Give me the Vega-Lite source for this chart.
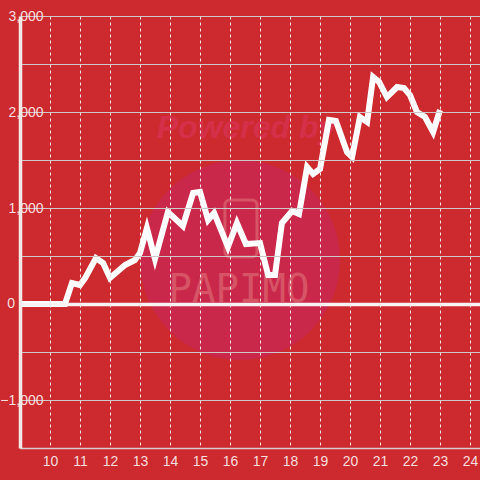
{
  "$schema": "https://vega.github.io/schema/vega-lite/v6.json",
  "width": 460,
  "height": 432,
  "autosize": {"type": "none"},
  "padding": {"left": 20, "top": 16, "right": 0, "bottom": 32},
  "background": "#cc2a2f",
  "config": {"view": {"stroke": null}, "font": "Liberation Sans"},
  "datasets": {
    "circle": [{"x": 16.33, "y": 458}],
    "phone": [{"x": 15.83, "x2": 16.9, "y": 1083, "y2": 490}],
    "powered": [{"x": 16.55, "y": 1830, "label": "Powered by"}],
    "papimo": [{"x": 16.3, "y": 146, "label": "PAPIMO"}],
    "zerolabel": [{"x": 9, "y": 0, "label": "0"}],
    "profit": [
      {"x": 9.0, "y": 0}, {"x": 10.5, "y": 0}, {"x": 10.73, "y": 219}, {"x": 11.0, "y": 198},
      {"x": 11.17, "y": 270}, {"x": 11.53, "y": 479}, {"x": 11.77, "y": 427}, {"x": 12.0, "y": 271},
      {"x": 12.5, "y": 406}, {"x": 12.83, "y": 458}, {"x": 13.0, "y": 531}, {"x": 13.23, "y": 792},
      {"x": 13.5, "y": 469}, {"x": 13.93, "y": 958}, {"x": 14.43, "y": 813}, {"x": 14.77, "y": 1156},
      {"x": 15.0, "y": 1167}, {"x": 15.27, "y": 875}, {"x": 15.47, "y": 948}, {"x": 15.93, "y": 594},
      {"x": 16.23, "y": 844}, {"x": 16.53, "y": 625}, {"x": 17.0, "y": 635}, {"x": 17.27, "y": 302},
      {"x": 17.5, "y": 302}, {"x": 17.73, "y": 844}, {"x": 18.07, "y": 969}, {"x": 18.3, "y": 938},
      {"x": 18.57, "y": 1427}, {"x": 18.77, "y": 1354}, {"x": 19.0, "y": 1406}, {"x": 19.3, "y": 1917},
      {"x": 19.53, "y": 1906}, {"x": 19.9, "y": 1583}, {"x": 20.07, "y": 1531}, {"x": 20.33, "y": 1948},
      {"x": 20.57, "y": 1896}, {"x": 20.77, "y": 2365}, {"x": 20.97, "y": 2313}, {"x": 21.23, "y": 2156},
      {"x": 21.57, "y": 2260}, {"x": 21.8, "y": 2250}, {"x": 22.0, "y": 2177}, {"x": 22.23, "y": 2000},
      {"x": 22.5, "y": 1948}, {"x": 22.77, "y": 1792}, {"x": 23.0, "y": 2021}
    ]
  },
  "encoding": {
    "x": {
      "field": "x", "type": "quantitative",
      "scale": {"domain": [9, 24.333], "nice": false, "zero": false},
      "axis": {
        "title": null, "values": [10, 11, 12, 13, 14, 15, 16, 17, 18, 19, 20, 21, 22, 23, 24],
        "zindex": 1, "grid": true, "gridColor": "#f2e6e6", "gridDash": [3, 3], "gridWidth": 1,
        "ticks": false, "labelPadding": 6, "labelColor": "#f6dede", "labelFontSize": 14,
        "domainColor": "#d8cccc", "domainWidth": 1.5, "labelFlush": false
      }
    },
    "y": {
      "field": "y", "type": "quantitative",
      "scale": {"domain": [-1500, 3000], "nice": false, "zero": false},
      "axis": {
        "title": null, "values": [-1500, -1000, -500, 0, 500, 1000, 1500, 2000, 2500, 3000],
        "labelExpr": "datum.value != 0 && datum.value % 1000 == 0 ? format(datum.value, ',') : ''",
        "zindex": 1, "grid": true,
        "gridColor": {"condition": {"test": "datum.value == 0", "value": "#f8f2f2"}, "value": "#cfc8c8"},
        "gridWidth": {"condition": {"test": "datum.value == 0", "value": 3.5}, "value": 1.2},
        "ticks": false, "labelPadding": -23, "labelAlign": "right", "labelColor": "#f6dede",
        "labelFontSize": 14, "labelFlush": false, "domainColor": "#f2e8e8", "domainWidth": 3.5
      }
    }
  },
  "layer": [
    {
      "data": {"name": "circle"},
      "mark": {"type": "point", "filled": true, "color": "#c9284a", "opacity": 1, "size": 40000}
    },
    {
      "data": {"name": "phone"},
      "mark": {"type": "rect", "fill": null, "fillOpacity": 0, "stroke": "#d65466", "strokeWidth": 3, "cornerRadius": 5},
      "encoding": {"x2": {"field": "x2"}, "y2": {"field": "y2"}}
    },
    {
      "data": {"name": "powered"},
      "mark": {"type": "text", "fontSize": 32, "fontWeight": "bold", "fontStyle": "italic", "color": "#d4304a", "align": "center", "baseline": "middle"},
      "encoding": {"text": {"field": "label"}}
    },
    {
      "data": {"name": "papimo"},
      "mark": {"type": "text", "font": "DejaVu Sans Mono", "fontSize": 39, "color": "#d65466", "align": "center", "baseline": "middle"},
      "encoding": {"text": {"field": "label"}}
    },
    {
      "data": {"name": "profit"},
      "mark": {"type": "line", "color": "#ffffff", "strokeWidth": 6, "strokeJoin": "miter", "strokeCap": "butt"}
    },
    {
      "data": {"name": "zerolabel"},
      "mark": {"type": "text", "fontSize": 14, "color": "#f6dede", "align": "right", "baseline": "middle", "dx": -5},
      "encoding": {"text": {"field": "label"}}
    }
  ]
}
